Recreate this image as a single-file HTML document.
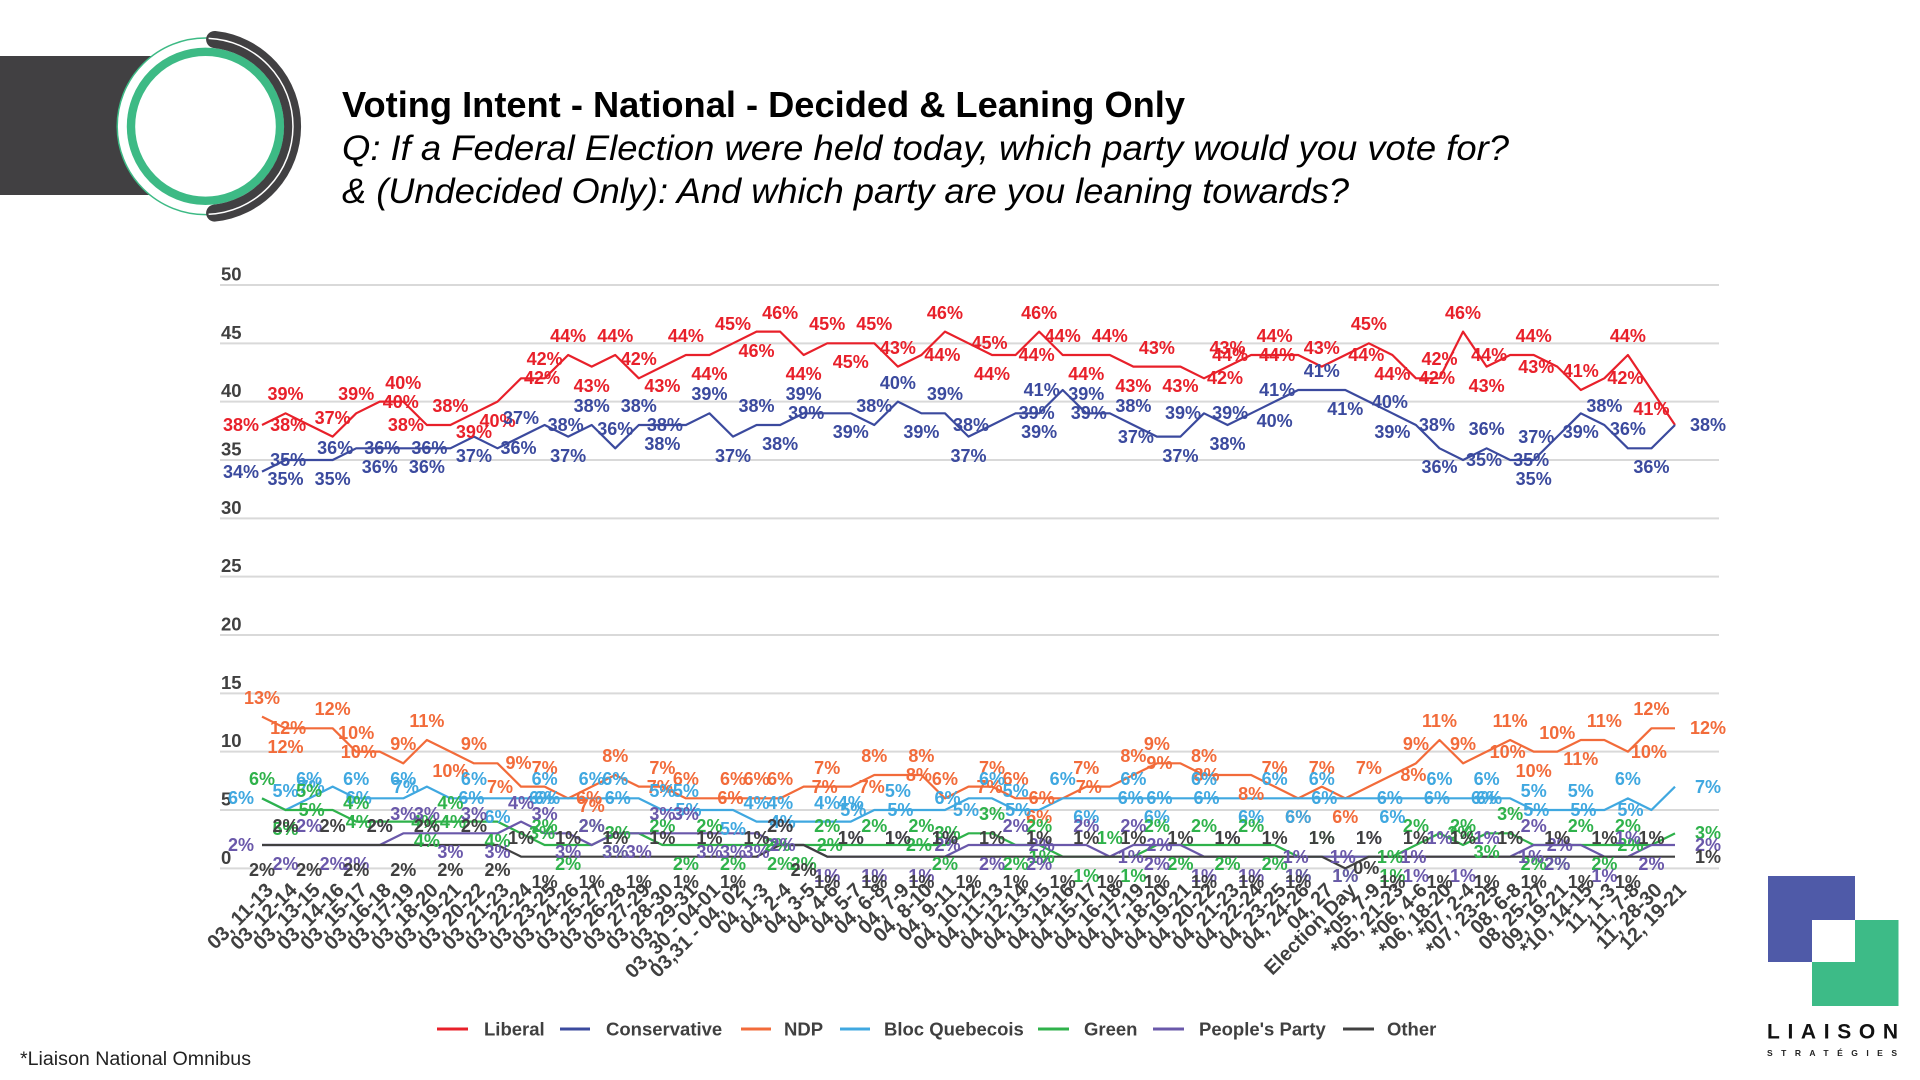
<!DOCTYPE html>
<html><head><meta charset="utf-8"><style>
html,body{margin:0;padding:0;background:#fff}
#w{position:relative;width:1920px;height:1080px;overflow:hidden;background:#fff;font-family:"Liberation Sans",sans-serif}
svg{position:absolute;left:0;top:0}
.p b{position:absolute;font:bold 18px/1 "Liberation Sans",sans-serif;white-space:nowrap;left:calc(262px + var(--i)*23.55px + var(--dx,0px));top:calc(868.33px - var(--v)*11.667px + var(--dy,0px));transform:translate(-50%,-50%)}
.A{--dy:-19px}.B{--dy:19px}.D{--dy:25px}.L{--dx:-21px}.R{--dx:21px}.E{--dx:33px}
.r{color:#e8202a}.c{color:#3b4a9e}.n{color:#f26b3a}.q{color:#40a8e0}.g{color:#2fb24b}.u{color:#6a58aa}.o{color:#404040}
.x b{position:absolute;font:bold 20px/1 "Liberation Sans",sans-serif;color:#404040;white-space:nowrap;left:calc(270px + var(--i)*23.55px);top:887px;transform-origin:100% 50%;transform:translate(-100%,-50%) rotate(-45deg)}
</style></head><body><div id="w">
<svg width="1920" height="1080" viewBox="0 0 1920 1080" font-family="Liberation Sans, sans-serif">
<rect x="0" y="56" width="206" height="139" fill="#414042"/>
<circle cx="205.5" cy="126.3" r="88.3" fill="#fff"/>
<circle cx="205.5" cy="126.3" r="88.3" fill="none" stroke="#3dba85" stroke-width="1.5"/>
<circle cx="205.5" cy="126.3" r="74.5" fill="none" stroke="#3dba85" stroke-width="8.4"/>
<path d="M214.6 39.5 A87.3 87.3 0 0 1 214.6 213.1" fill="none" stroke="#414042" stroke-width="17" stroke-linecap="round"/>
<path d="M208.6 38.35 A88 88 0 0 1 208.6 214.2" fill="none" stroke="#fff" stroke-width="1.5"/>
<text x="342" y="117" font-size="36" font-weight="bold" fill="#000" textLength="843" lengthAdjust="spacingAndGlyphs">Voting Intent - National - Decided &amp; Leaning Only</text>
<text x="342" y="160" font-size="35" font-style="italic" fill="#000" textLength="1167" lengthAdjust="spacingAndGlyphs">Q: If a Federal Election were held today, which party would you vote for?</text>
<text x="342" y="203" font-size="35" font-style="italic" fill="#000" textLength="1007" lengthAdjust="spacingAndGlyphs">&amp; (Undecided Only): And which party are you leaning towards?</text>
<g stroke="#d9d9d9" stroke-width="2">
<line x1="220" x2="1719" y1="285" y2="285"/><line x1="220" x2="1719" y1="343.33" y2="343.33"/><line x1="220" x2="1719" y1="401.67" y2="401.67"/><line x1="220" x2="1719" y1="460" y2="460"/><line x1="220" x2="1719" y1="518.33" y2="518.33"/><line x1="220" x2="1719" y1="576.67" y2="576.67"/><line x1="220" x2="1719" y1="635" y2="635"/><line x1="220" x2="1719" y1="693.33" y2="693.33"/><line x1="220" x2="1719" y1="751.67" y2="751.67"/><line x1="220" x2="1719" y1="810" y2="810"/><line x1="220" x2="1719" y1="868.33" y2="868.33"/>
</g>
<g font-size="18.5" font-weight="bold" fill="#404040">
<text x="221" y="280.5">50</text><text x="221" y="338.8">45</text><text x="221" y="397.2">40</text><text x="221" y="455.5">35</text><text x="221" y="513.8">30</text><text x="221" y="572.2">25</text><text x="221" y="630.5">20</text><text x="221" y="688.8">15</text><text x="221" y="747.2">10</text><text x="221" y="805.5">5</text><text x="221" y="863.8">0</text>
</g>
<g transform="translate(262 868.33) scale(23.55 -11.667)" fill="none" stroke-linejoin="round">
<polyline vector-effect="non-scaling-stroke" stroke-width="2.2" stroke="#e8202a" points="0,38 1,39 2,38 3,37 4,39 5,40 6,40 7,38 8,38 9,39 10,40 11,42 12,42 13,44 14,43 15,44 16,42 17,43 18,44 19,44 20,45 21,46 22,46 23,44 24,45 25,45 26,45 27,43 28,44 29,46 30,45 31,44 32,44 33,46 34,44 35,44 36,44 37,43 38,43 39,43 40,42 41,43 42,44 43,44 44,44 45,43 46,44 47,45 48,44 49,42 50,42 51,46 52,43 53,44 54,44 55,43 56,41 57,42 58,44 59,41 60,38"/>
<polyline vector-effect="non-scaling-stroke" stroke-width="2.2" stroke="#3b4a9e" points="0,34 1,35 2,35 3,35 4,36 5,36 6,36 7,36 8,36 9,37 10,36 11,37 12,38 13,37 14,38 15,36 16,38 17,38 18,38 19,39 20,37 21,38 22,38 23,39 24,39 25,39 26,38 27,40 28,39 29,39 30,37 31,38 32,39 33,39 34,41 35,39 36,39 37,38 38,37 39,37 40,39 41,38 42,39 43,40 44,41 45,41 46,41 47,40 48,39 49,38 50,36 51,35 52,36 53,35 54,35 55,37 56,39 57,38 58,36 59,36 60,38"/>
<polyline vector-effect="non-scaling-stroke" stroke-width="2.2" stroke="#f26b3a" points="0,13 1,12 2,12 3,12 4,10 5,10 6,9 7,11 8,10 9,9 10,9 11,7 12,7 13,6 14,7 15,8 16,7 17,7 18,6 19,6 20,6 21,6 22,6 23,7 24,7 25,7 26,8 27,8 28,8 29,6 30,7 31,7 32,6 33,6 34,6 35,7 36,7 37,8 38,9 39,9 40,8 41,8 42,8 43,7 44,6 45,7 46,6 47,7 48,8 49,9 50,11 51,9 52,10 53,11 54,10 55,10 56,11 57,11 58,10 59,12 60,12"/>
<polyline vector-effect="non-scaling-stroke" stroke-width="2.2" stroke="#40a8e0" points="0,6 1,5 2,6 3,7 4,6 5,6 6,6 7,7 8,6 9,6 10,6 11,6 12,6 13,6 14,6 15,6 16,6 17,5 18,5 19,5 20,5 21,4 22,4 23,4 24,4 25,4 26,5 27,5 28,5 29,5 30,6 31,6 32,5 33,5 34,6 35,6 36,6 37,6 38,6 39,6 40,6 41,6 42,6 43,6 44,6 45,6 46,6 47,6 48,6 49,6 50,6 51,6 52,6 53,6 54,5 55,5 56,5 57,5 58,6 59,5 60,7"/>
<polyline vector-effect="non-scaling-stroke" stroke-width="2.2" stroke="#2fb24b" points="0,6 1,5 2,5 3,5 4,4 5,4 6,4 7,4 8,4 9,4 10,4 11,3 12,2 13,2 14,2 15,3 16,3 17,2 18,2 19,2 20,2 21,2 22,2 23,2 24,2 25,2 26,2 27,2 28,2 29,2 30,3 31,3 32,2 33,2 34,1 35,1 36,1 37,1 38,2 39,2 40,2 41,2 42,2 43,2 44,1 45,1 46,1 47,1 48,1 49,2 50,3 51,2 52,3 53,3 54,2 55,2 56,2 57,2 58,2 59,2 60,3"/>
<polyline vector-effect="non-scaling-stroke" stroke-width="2.2" stroke="#6a58aa" points="0,2 1,2 2,2 3,2 4,2 5,2 6,3 7,3 8,3 9,3 10,3 11,4 12,3 13,3 14,2 15,3 16,3 17,3 18,3 19,3 20,3 21,3 22,2 23,2 24,1 25,1 26,1 27,1 28,1 29,1 30,2 31,2 32,2 33,2 34,2 35,2 36,1 37,2 38,2 39,2 40,1 41,1 42,1 43,1 44,1 45,1 46,1 47,1 48,1 49,1 50,1 51,1 52,1 53,1 54,2 55,2 56,2 57,1 58,1 59,2 60,2"/>
<polyline vector-effect="non-scaling-stroke" stroke-width="2.2" stroke="#404040" points="0,2 1,2 2,2 3,2 4,2 5,2 6,2 7,2 8,2 9,2 10,2 11,1 12,1 13,1 14,1 15,1 16,1 17,1 18,1 19,1 20,1 21,1 22,2 23,2 24,1 25,1 26,1 27,1 28,1 29,1 30,1 31,1 32,1 33,1 34,1 35,1 36,1 37,1 38,1 39,1 40,1 41,1 42,1 43,1 44,1 45,1 46,0 47,1 48,1 49,1 50,1 51,1 52,1 53,1 54,1 55,1 56,1 57,1 58,1 59,1 60,1"/>
</g>
<g font-size="18.5" font-weight="bold" fill="#404040" stroke-width="3">
<line x1="437" x2="468" y1="1029" y2="1029" stroke="#e8202a"/><text x="484" y="1035.5">Liberal</text>
<line x1="560" x2="590" y1="1029" y2="1029" stroke="#3b4a9e"/><text x="606" y="1035.5">Conservative</text>
<line x1="741" x2="771" y1="1029" y2="1029" stroke="#f26b3a"/><text x="784" y="1035.5">NDP</text>
<line x1="840" x2="870" y1="1029" y2="1029" stroke="#40a8e0"/><text x="884" y="1035.5">Bloc Quebecois</text>
<line x1="1038" x2="1069" y1="1029" y2="1029" stroke="#2fb24b"/><text x="1084" y="1035.5">Green</text>
<line x1="1153" x2="1184" y1="1029" y2="1029" stroke="#6a58aa"/><text x="1199" y="1035.5">People's Party</text>
<line x1="1343" x2="1374" y1="1029" y2="1029" stroke="#404040"/><text x="1387" y="1035.5">Other</text>
</g>
<text x="20" y="1065" font-size="19" fill="#222" textLength="231" lengthAdjust="spacingAndGlyphs">*Liaison National Omnibus</text>
<rect x="1768" y="876" width="87" height="86" fill="#4f5aa8"/>
<rect x="1812" y="920" width="86.5" height="86" fill="#3dbb87"/>
<rect x="1812" y="920" width="43" height="42" fill="#fff"/>
<text x="1767" y="1038.5" font-size="21" font-weight="bold" fill="#111" textLength="131" lengthAdjust="spacing">LIAISON</text>
<text x="1767" y="1056" font-size="8.5" font-weight="bold" fill="#222" textLength="130" lengthAdjust="spacing">STRATÉGIES</text>
</svg>
<div class="p">
<b class="r L" style="--i:0;--v:38">38%</b><b class="r A" style="--i:1;--v:39">39%</b><b class="r L" style="--i:2;--v:38">38%</b><b class="r A" style="--i:3;--v:37">37%</b><b class="r A" style="--i:4;--v:39">39%</b><b class="r R" style="--i:5;--v:40">40%</b><b class="r A" style="--i:6;--v:40">40%</b><b class="r L" style="--i:7;--v:38">38%</b><b class="r A" style="--i:8;--v:38">38%</b><b class="r B" style="--i:9;--v:39">39%</b><b class="r B" style="--i:10;--v:40">40%</b><b class="r R" style="--i:11;--v:42">42%</b><b class="r A" style="--i:12;--v:42">42%</b><b class="r A" style="--i:13;--v:44">44%</b><b class="r B" style="--i:14;--v:43">43%</b><b class="r A" style="--i:15;--v:44">44%</b><b class="r A" style="--i:16;--v:42">42%</b><b class="r B" style="--i:17;--v:43">43%</b><b class="r A" style="--i:18;--v:44">44%</b><b class="r B" style="--i:19;--v:44">44%</b><b class="r A" style="--i:20;--v:45">45%</b><b class="r B" style="--i:21;--v:46">46%</b><b class="r A" style="--i:22;--v:46">46%</b><b class="r B" style="--i:23;--v:44">44%</b><b class="r A" style="--i:24;--v:45">45%</b><b class="r B" style="--i:25;--v:45">45%</b><b class="r A" style="--i:26;--v:45">45%</b><b class="r A" style="--i:27;--v:43">43%</b><b class="r R" style="--i:28;--v:44">44%</b><b class="r A" style="--i:29;--v:46">46%</b><b class="r R" style="--i:30;--v:45">45%</b><b class="r B" style="--i:31;--v:44">44%</b><b class="r R" style="--i:32;--v:44">44%</b><b class="r A" style="--i:33;--v:46">46%</b><b class="r A" style="--i:34;--v:44">44%</b><b class="r B" style="--i:35;--v:44">44%</b><b class="r A" style="--i:36;--v:44">44%</b><b class="r B" style="--i:37;--v:43">43%</b><b class="r A" style="--i:38;--v:43">43%</b><b class="r B" style="--i:39;--v:43">43%</b><b class="r R" style="--i:40;--v:42">42%</b><b class="r A" style="--i:41;--v:43">43%</b><b class="r L" style="--i:42;--v:44">44%</b><b class="r A" style="--i:43;--v:44">44%</b><b class="r L" style="--i:44;--v:44">44%</b><b class="r A" style="--i:45;--v:43">43%</b><b class="r R" style="--i:46;--v:44">44%</b><b class="r A" style="--i:47;--v:45">45%</b><b class="r B" style="--i:48;--v:44">44%</b><b class="r R" style="--i:49;--v:42">42%</b><b class="r A" style="--i:50;--v:42">42%</b><b class="r A" style="--i:51;--v:46">46%</b><b class="r B" style="--i:52;--v:43">43%</b><b class="r L" style="--i:53;--v:44">44%</b><b class="r A" style="--i:54;--v:44">44%</b><b class="r L" style="--i:55;--v:43">43%</b><b class="r A" style="--i:56;--v:41">41%</b><b class="r R" style="--i:57;--v:42">42%</b><b class="r A" style="--i:58;--v:44">44%</b><b class="r B" style="--i:59;--v:41">41%</b>
<b class="c L" style="--i:0;--v:34">34%</b><b class="c B" style="--i:1;--v:35">35%</b><b class="c L" style="--i:2;--v:35">35%</b><b class="c B" style="--i:3;--v:35">35%</b><b class="c L" style="--i:4;--v:36">36%</b><b class="c B" style="--i:5;--v:36">36%</b><b class="c L" style="--i:6;--v:36">36%</b><b class="c B" style="--i:7;--v:36">36%</b><b class="c L" style="--i:8;--v:36">36%</b><b class="c B" style="--i:9;--v:37">37%</b><b class="c R" style="--i:10;--v:36">36%</b><b class="c A" style="--i:11;--v:37">37%</b><b class="c R" style="--i:12;--v:38">38%</b><b class="c B" style="--i:13;--v:37">37%</b><b class="c A" style="--i:14;--v:38">38%</b><b class="c A" style="--i:15;--v:36">36%</b><b class="c A" style="--i:16;--v:38">38%</b><b class="c B" style="--i:17;--v:38">38%</b><b class="c L" style="--i:18;--v:38">38%</b><b class="c A" style="--i:19;--v:39">39%</b><b class="c B" style="--i:20;--v:37">37%</b><b class="c A" style="--i:21;--v:38">38%</b><b class="c B" style="--i:22;--v:38">38%</b><b class="c A" style="--i:23;--v:39">39%</b><b class="c L" style="--i:24;--v:39">39%</b><b class="c B" style="--i:25;--v:39">39%</b><b class="c A" style="--i:26;--v:38">38%</b><b class="c A" style="--i:27;--v:40">40%</b><b class="c B" style="--i:28;--v:39">39%</b><b class="c A" style="--i:29;--v:39">39%</b><b class="c B" style="--i:30;--v:37">37%</b><b class="c L" style="--i:31;--v:38">38%</b><b class="c R" style="--i:32;--v:39">39%</b><b class="c B" style="--i:33;--v:39">39%</b><b class="c L" style="--i:34;--v:41">41%</b><b class="c A" style="--i:35;--v:39">39%</b><b class="c L" style="--i:36;--v:39">39%</b><b class="c A" style="--i:37;--v:38">38%</b><b class="c L" style="--i:38;--v:37">37%</b><b class="c B" style="--i:39;--v:37">37%</b><b class="c L" style="--i:40;--v:39">39%</b><b class="c B" style="--i:41;--v:38">38%</b><b class="c L" style="--i:42;--v:39">39%</b><b class="c B" style="--i:43;--v:40">40%</b><b class="c L" style="--i:44;--v:41">41%</b><b class="c A" style="--i:45;--v:41">41%</b><b class="c B" style="--i:46;--v:41">41%</b><b class="c R" style="--i:47;--v:40">40%</b><b class="c B" style="--i:48;--v:39">39%</b><b class="c R" style="--i:49;--v:38">38%</b><b class="c B" style="--i:50;--v:36">36%</b><b class="c R" style="--i:51;--v:35">35%</b><b class="c A" style="--i:52;--v:36">36%</b><b class="c R" style="--i:53;--v:35">35%</b><b class="c B" style="--i:54;--v:35">35%</b><b class="c L" style="--i:55;--v:37">37%</b><b class="c B" style="--i:56;--v:39">39%</b><b class="c A" style="--i:57;--v:38">38%</b><b class="c A" style="--i:58;--v:36">36%</b><b class="c B" style="--i:59;--v:36">36%</b><b class="c E" style="--i:60;--v:38">38%</b>
<b class="n A" style="--i:0;--v:13">13%</b><b class="n B" style="--i:1;--v:12">12%</b><b class="n L" style="--i:2;--v:12">12%</b><b class="n A" style="--i:3;--v:12">12%</b><b class="n A" style="--i:4;--v:10">10%</b><b class="n L" style="--i:5;--v:10">10%</b><b class="n A" style="--i:6;--v:9">9%</b><b class="n A" style="--i:7;--v:11">11%</b><b class="n B" style="--i:8;--v:10">10%</b><b class="n A" style="--i:9;--v:9">9%</b><b class="n R" style="--i:10;--v:9">9%</b><b class="n L" style="--i:11;--v:7">7%</b><b class="n A" style="--i:12;--v:7">7%</b><b class="n R" style="--i:13;--v:6">6%</b><b class="n B" style="--i:14;--v:7">7%</b><b class="n A" style="--i:15;--v:8">8%</b><b class="n R" style="--i:16;--v:7">7%</b><b class="n A" style="--i:17;--v:7">7%</b><b class="n A" style="--i:18;--v:6">6%</b><b class="n R" style="--i:19;--v:6">6%</b><b class="n A" style="--i:20;--v:6">6%</b><b class="n A" style="--i:21;--v:6">6%</b><b class="n A" style="--i:22;--v:6">6%</b><b class="n R" style="--i:23;--v:7">7%</b><b class="n A" style="--i:24;--v:7">7%</b><b class="n R" style="--i:25;--v:7">7%</b><b class="n A" style="--i:26;--v:8">8%</b><b class="n R" style="--i:27;--v:8">8%</b><b class="n A" style="--i:28;--v:8">8%</b><b class="n A" style="--i:29;--v:6">6%</b><b class="n R" style="--i:30;--v:7">7%</b><b class="n A" style="--i:31;--v:7">7%</b><b class="n A" style="--i:32;--v:6">6%</b><b class="n B" style="--i:33;--v:6">6%</b><b class="n L" style="--i:34;--v:6">6%</b><b class="n A" style="--i:35;--v:7">7%</b><b class="n L" style="--i:36;--v:7">7%</b><b class="n A" style="--i:37;--v:8">8%</b><b class="n A" style="--i:38;--v:9">9%</b><b class="n L" style="--i:39;--v:9">9%</b><b class="n A" style="--i:40;--v:8">8%</b><b class="n L" style="--i:41;--v:8">8%</b><b class="n B" style="--i:42;--v:8">8%</b><b class="n A" style="--i:43;--v:7">7%</b><b class="n B" style="--i:44;--v:6">6%</b><b class="n A" style="--i:45;--v:7">7%</b><b class="n B" style="--i:46;--v:6">6%</b><b class="n A" style="--i:47;--v:7">7%</b><b class="n R" style="--i:48;--v:8">8%</b><b class="n A" style="--i:49;--v:9">9%</b><b class="n A" style="--i:50;--v:11">11%</b><b class="n A" style="--i:51;--v:9">9%</b><b class="n R" style="--i:52;--v:10">10%</b><b class="n A" style="--i:53;--v:11">11%</b><b class="n B" style="--i:54;--v:10">10%</b><b class="n A" style="--i:55;--v:10">10%</b><b class="n B" style="--i:56;--v:11">11%</b><b class="n A" style="--i:57;--v:11">11%</b><b class="n R" style="--i:58;--v:10">10%</b><b class="n A" style="--i:59;--v:12">12%</b><b class="n E" style="--i:60;--v:12">12%</b>
<b class="q L" style="--i:0;--v:6">6%</b><b class="q A" style="--i:1;--v:5">5%</b><b class="q A" style="--i:2;--v:6">6%</b><b class="q L" style="--i:3;--v:7">7%</b><b class="q A" style="--i:4;--v:6">6%</b><b class="q L" style="--i:5;--v:6">6%</b><b class="q A" style="--i:6;--v:6">6%</b><b class="q L" style="--i:7;--v:7">7%</b><b class="q R" style="--i:8;--v:6">6%</b><b class="q A" style="--i:9;--v:6">6%</b><b class="q B" style="--i:10;--v:6">6%</b><b class="q R" style="--i:11;--v:6">6%</b><b class="q A" style="--i:12;--v:6">6%</b><b class="q L" style="--i:13;--v:6">6%</b><b class="q A" style="--i:14;--v:6">6%</b><b class="q A" style="--i:15;--v:6">6%</b><b class="q L" style="--i:16;--v:6">6%</b><b class="q A" style="--i:17;--v:5">5%</b><b class="q A" style="--i:18;--v:5">5%</b><b class="q L" style="--i:19;--v:5">5%</b><b class="q B" style="--i:20;--v:5">5%</b><b class="q A" style="--i:21;--v:4">4%</b><b class="q A" style="--i:22;--v:4">4%</b><b class="q L" style="--i:23;--v:4">4%</b><b class="q A" style="--i:24;--v:4">4%</b><b class="q A" style="--i:25;--v:4">4%</b><b class="q L" style="--i:26;--v:5">5%</b><b class="q A" style="--i:27;--v:5">5%</b><b class="q L" style="--i:28;--v:5">5%</b><b class="q R" style="--i:29;--v:5">5%</b><b class="q L" style="--i:30;--v:6">6%</b><b class="q A" style="--i:31;--v:6">6%</b><b class="q A" style="--i:32;--v:5">5%</b><b class="q L" style="--i:33;--v:5">5%</b><b class="q A" style="--i:34;--v:6">6%</b><b class="q B" style="--i:35;--v:6">6%</b><b class="q R" style="--i:36;--v:6">6%</b><b class="q A" style="--i:37;--v:6">6%</b><b class="q B" style="--i:38;--v:6">6%</b><b class="q L" style="--i:39;--v:6">6%</b><b class="q A" style="--i:40;--v:6">6%</b><b class="q L" style="--i:41;--v:6">6%</b><b class="q B" style="--i:42;--v:6">6%</b><b class="q A" style="--i:43;--v:6">6%</b><b class="q B" style="--i:44;--v:6">6%</b><b class="q A" style="--i:45;--v:6">6%</b><b class="q L" style="--i:46;--v:6">6%</b><b class="q R" style="--i:47;--v:6">6%</b><b class="q B" style="--i:48;--v:6">6%</b><b class="q R" style="--i:49;--v:6">6%</b><b class="q A" style="--i:50;--v:6">6%</b><b class="q R" style="--i:51;--v:6">6%</b><b class="q A" style="--i:52;--v:6">6%</b><b class="q L" style="--i:53;--v:6">6%</b><b class="q A" style="--i:54;--v:5">5%</b><b class="q L" style="--i:55;--v:5">5%</b><b class="q A" style="--i:56;--v:5">5%</b><b class="q L" style="--i:57;--v:5">5%</b><b class="q A" style="--i:58;--v:6">6%</b><b class="q L" style="--i:59;--v:5">5%</b><b class="q E" style="--i:60;--v:7">7%</b>
<b class="g A" style="--i:0;--v:6">6%</b><b class="g B" style="--i:1;--v:5">5%</b><b class="g A" style="--i:2;--v:5">5%</b><b class="g L" style="--i:3;--v:5">5%</b><b class="g A" style="--i:4;--v:4">4%</b><b class="g L" style="--i:5;--v:4">4%</b><b class="g R" style="--i:6;--v:4">4%</b><b class="g B" style="--i:7;--v:4">4%</b><b class="g A" style="--i:8;--v:4">4%</b><b class="g L" style="--i:9;--v:4">4%</b><b class="g B" style="--i:10;--v:4">4%</b><b class="g R" style="--i:11;--v:3">3%</b><b class="g A" style="--i:12;--v:2">2%</b><b class="g B" style="--i:13;--v:2">2%</b><b class="g A" style="--i:14;--v:2">2%</b><b class="g B" style="--i:15;--v:3">3%</b><b class="g L" style="--i:16;--v:3">3%</b><b class="g A" style="--i:17;--v:2">2%</b><b class="g B" style="--i:18;--v:2">2%</b><b class="g A" style="--i:19;--v:2">2%</b><b class="g B" style="--i:20;--v:2">2%</b><b class="g R" style="--i:21;--v:2">2%</b><b class="g B" style="--i:22;--v:2">2%</b><b class="g B" style="--i:23;--v:2">2%</b><b class="g A" style="--i:24;--v:2">2%</b><b class="g L" style="--i:25;--v:2">2%</b><b class="g A" style="--i:26;--v:2">2%</b><b class="g R" style="--i:27;--v:2">2%</b><b class="g A" style="--i:28;--v:2">2%</b><b class="g B" style="--i:29;--v:2">2%</b><b class="g L" style="--i:30;--v:3">3%</b><b class="g A" style="--i:31;--v:3">3%</b><b class="g B" style="--i:32;--v:2">2%</b><b class="g A" style="--i:33;--v:2">2%</b><b class="g L" style="--i:34;--v:1">1%</b><b class="g B" style="--i:35;--v:1">1%</b><b class="g A" style="--i:36;--v:1">1%</b><b class="g B" style="--i:37;--v:1">1%</b><b class="g A" style="--i:38;--v:2">2%</b><b class="g B" style="--i:39;--v:2">2%</b><b class="g A" style="--i:40;--v:2">2%</b><b class="g B" style="--i:41;--v:2">2%</b><b class="g A" style="--i:42;--v:2">2%</b><b class="g B" style="--i:43;--v:2">2%</b><b class="g B" style="--i:44;--v:1">1%</b><b class="g A" style="--i:45;--v:1">1%</b><b class="g B" style="--i:46;--v:1">1%</b><b class="g R" style="--i:47;--v:1">1%</b><b class="g B" style="--i:48;--v:1">1%</b><b class="g A" style="--i:49;--v:2">2%</b><b class="g R" style="--i:50;--v:3">3%</b><b class="g A" style="--i:51;--v:2">2%</b><b class="g B" style="--i:52;--v:3">3%</b><b class="g A" style="--i:53;--v:3">3%</b><b class="g B" style="--i:54;--v:2">2%</b><b class="g B" style="--i:55;--v:2">2%</b><b class="g A" style="--i:56;--v:2">2%</b><b class="g B" style="--i:57;--v:2">2%</b><b class="g A" style="--i:58;--v:2">2%</b><b class="g L" style="--i:59;--v:2">2%</b><b class="g E" style="--i:60;--v:3">3%</b>
<b class="u L" style="--i:0;--v:2">2%</b><b class="u B" style="--i:1;--v:2">2%</b><b class="u A" style="--i:2;--v:2">2%</b><b class="u B" style="--i:3;--v:2">2%</b><b class="u B" style="--i:4;--v:2">2%</b><b class="u A" style="--i:5;--v:2">2%</b><b class="u A" style="--i:6;--v:3">3%</b><b class="u A" style="--i:7;--v:3">3%</b><b class="u B" style="--i:8;--v:3">3%</b><b class="u A" style="--i:9;--v:3">3%</b><b class="u B" style="--i:10;--v:3">3%</b><b class="u A" style="--i:11;--v:4">4%</b><b class="u A" style="--i:12;--v:3">3%</b><b class="u B" style="--i:13;--v:3">3%</b><b class="u A" style="--i:14;--v:2">2%</b><b class="u B" style="--i:15;--v:3">3%</b><b class="u B" style="--i:16;--v:3">3%</b><b class="u A" style="--i:17;--v:3">3%</b><b class="u A" style="--i:18;--v:3">3%</b><b class="u B" style="--i:19;--v:3">3%</b><b class="u B" style="--i:20;--v:3">3%</b><b class="u B" style="--i:21;--v:3">3%</b><b class="u A" style="--i:22;--v:2">2%</b><b class="u L" style="--i:23;--v:2">2%</b><b class="u B" style="--i:24;--v:1">1%</b><b class="u A" style="--i:25;--v:1">1%</b><b class="u B" style="--i:26;--v:1">1%</b><b class="u A" style="--i:27;--v:1">1%</b><b class="u B" style="--i:28;--v:1">1%</b><b class="u A" style="--i:29;--v:1">1%</b><b class="u L" style="--i:30;--v:2">2%</b><b class="u B" style="--i:31;--v:2">2%</b><b class="u A" style="--i:32;--v:2">2%</b><b class="u B" style="--i:33;--v:2">2%</b><b class="u L" style="--i:34;--v:2">2%</b><b class="u A" style="--i:35;--v:2">2%</b><b class="u R" style="--i:36;--v:1">1%</b><b class="u A" style="--i:37;--v:2">2%</b><b class="u B" style="--i:38;--v:2">2%</b><b class="u L" style="--i:39;--v:2">2%</b><b class="u B" style="--i:40;--v:1">1%</b><b class="u A" style="--i:41;--v:1">1%</b><b class="u B" style="--i:42;--v:1">1%</b><b class="u R" style="--i:43;--v:1">1%</b><b class="u B" style="--i:44;--v:1">1%</b><b class="u R" style="--i:45;--v:1">1%</b><b class="u B" style="--i:46;--v:1">1%</b><b class="u A" style="--i:47;--v:1">1%</b><b class="u R" style="--i:48;--v:1">1%</b><b class="u B" style="--i:49;--v:1">1%</b><b class="u A" style="--i:50;--v:1">1%</b><b class="u B" style="--i:51;--v:1">1%</b><b class="u A" style="--i:52;--v:1">1%</b><b class="u R" style="--i:53;--v:1">1%</b><b class="u A" style="--i:54;--v:2">2%</b><b class="u B" style="--i:55;--v:2">2%</b><b class="u L" style="--i:56;--v:2">2%</b><b class="u B" style="--i:57;--v:1">1%</b><b class="u A" style="--i:58;--v:1">1%</b><b class="u B" style="--i:59;--v:2">2%</b><b class="u E" style="--i:60;--v:2">2%</b>
<b class="o D" style="--i:0;--v:2">2%</b><b class="o A" style="--i:1;--v:2">2%</b><b class="o D" style="--i:2;--v:2">2%</b><b class="o A" style="--i:3;--v:2">2%</b><b class="o D" style="--i:4;--v:2">2%</b><b class="o A" style="--i:5;--v:2">2%</b><b class="o D" style="--i:6;--v:2">2%</b><b class="o A" style="--i:7;--v:2">2%</b><b class="o D" style="--i:8;--v:2">2%</b><b class="o A" style="--i:9;--v:2">2%</b><b class="o D" style="--i:10;--v:2">2%</b><b class="o A" style="--i:11;--v:1">1%</b><b class="o D" style="--i:12;--v:1">1%</b><b class="o A" style="--i:13;--v:1">1%</b><b class="o D" style="--i:14;--v:1">1%</b><b class="o A" style="--i:15;--v:1">1%</b><b class="o D" style="--i:16;--v:1">1%</b><b class="o A" style="--i:17;--v:1">1%</b><b class="o D" style="--i:18;--v:1">1%</b><b class="o A" style="--i:19;--v:1">1%</b><b class="o D" style="--i:20;--v:1">1%</b><b class="o A" style="--i:21;--v:1">1%</b><b class="o A" style="--i:22;--v:2">2%</b><b class="o D" style="--i:23;--v:2">2%</b><b class="o D" style="--i:24;--v:1">1%</b><b class="o A" style="--i:25;--v:1">1%</b><b class="o D" style="--i:26;--v:1">1%</b><b class="o A" style="--i:27;--v:1">1%</b><b class="o D" style="--i:28;--v:1">1%</b><b class="o A" style="--i:29;--v:1">1%</b><b class="o D" style="--i:30;--v:1">1%</b><b class="o A" style="--i:31;--v:1">1%</b><b class="o D" style="--i:32;--v:1">1%</b><b class="o A" style="--i:33;--v:1">1%</b><b class="o D" style="--i:34;--v:1">1%</b><b class="o A" style="--i:35;--v:1">1%</b><b class="o D" style="--i:36;--v:1">1%</b><b class="o A" style="--i:37;--v:1">1%</b><b class="o D" style="--i:38;--v:1">1%</b><b class="o A" style="--i:39;--v:1">1%</b><b class="o D" style="--i:40;--v:1">1%</b><b class="o A" style="--i:41;--v:1">1%</b><b class="o D" style="--i:42;--v:1">1%</b><b class="o A" style="--i:43;--v:1">1%</b><b class="o D" style="--i:44;--v:1">1%</b><b class="o A" style="--i:45;--v:1">1%</b><b class="o R" style="--i:46;--v:0">0%</b><b class="o A" style="--i:47;--v:1">1%</b><b class="o D" style="--i:48;--v:1">1%</b><b class="o A" style="--i:49;--v:1">1%</b><b class="o D" style="--i:50;--v:1">1%</b><b class="o A" style="--i:51;--v:1">1%</b><b class="o D" style="--i:52;--v:1">1%</b><b class="o A" style="--i:53;--v:1">1%</b><b class="o D" style="--i:54;--v:1">1%</b><b class="o A" style="--i:55;--v:1">1%</b><b class="o D" style="--i:56;--v:1">1%</b><b class="o A" style="--i:57;--v:1">1%</b><b class="o D" style="--i:58;--v:1">1%</b><b class="o A" style="--i:59;--v:1">1%</b><b class="o E" style="--i:60;--v:1">1%</b>
</div>
<div class="x">
<b style="--i:0">03, 11-13</b><b style="--i:1">03, 12-14</b><b style="--i:2">03, 13-15</b><b style="--i:3">03, 14-16</b><b style="--i:4">03, 15-17</b><b style="--i:5">03, 16-18</b><b style="--i:6">03, 17-19</b><b style="--i:7">03, 18-20</b><b style="--i:8">03, 19-21</b><b style="--i:9">03, 20-22</b><b style="--i:10">03, 21-23</b><b style="--i:11">03, 22-24</b><b style="--i:12">03, 23-25</b><b style="--i:13">03, 24-26</b><b style="--i:14">03, 25-27</b><b style="--i:15">03, 26-28</b><b style="--i:16">03, 27-29</b><b style="--i:17">03, 28-30</b><b style="--i:18">03, 29-31</b><b style="--i:19">03, 30 - 04-01</b><b style="--i:20">03,31 - 04, 02</b><b style="--i:21">04, 1-3</b><b style="--i:22">04, 2-4</b><b style="--i:23">04, 3-5</b><b style="--i:24">04, 4-6</b><b style="--i:25">04, 5-7</b><b style="--i:26">04, 6-8</b><b style="--i:27">04, 7-9</b><b style="--i:28">04, 8-10</b><b style="--i:29">04, 9-11</b><b style="--i:30">04, 10-12</b><b style="--i:31">04, 11-13</b><b style="--i:32">04, 12-14</b><b style="--i:33">04, 13-15</b><b style="--i:34">04, 14-16</b><b style="--i:35">04, 15-17</b><b style="--i:36">04, 16-18</b><b style="--i:37">04, 17-19</b><b style="--i:38">04, 18-20</b><b style="--i:39">04, 19-21</b><b style="--i:40">04, 20-22</b><b style="--i:41">04, 21-23</b><b style="--i:42">04, 22-24</b><b style="--i:43">04, 23-25</b><b style="--i:44">04, 24-26</b><b style="--i:45">04, 27</b><b style="--i:46">Election Day</b><b style="--i:47">*05, 7-9</b><b style="--i:48">*05, 21-23</b><b style="--i:49">*06, 4-6</b><b style="--i:50">*06, 18-20</b><b style="--i:51">*07, 2-4</b><b style="--i:52">*07, 23-25</b><b style="--i:53">08, 6-8</b><b style="--i:54">08, 25-27</b><b style="--i:55">09, 19-21</b><b style="--i:56">*10, 14-15</b><b style="--i:57">11, 1-3</b><b style="--i:58">11, 7-8</b><b style="--i:59">11, 28-30</b><b style="--i:60">12, 19-21</b>
</div>
</div></body></html>
